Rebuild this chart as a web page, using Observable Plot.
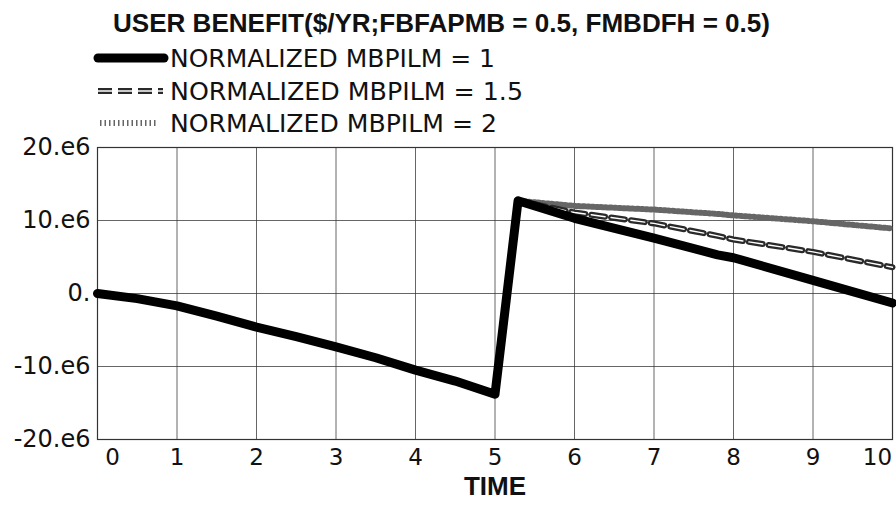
<!DOCTYPE html>
<html>
<head>
<meta charset="utf-8">
<script src="https://cdn.jsdelivr.net/npm/d3@7"></script>
<script src="https://cdn.jsdelivr.net/npm/@observablehq/plot@0.6"></script>
<style>
  html, body { margin: 0; padding: 0; background: white; }
  #wrap { position: relative; width: 896px; height: 508px; overflow: hidden; background: white; }
  #head { position: absolute; left: 0; top: 0; overflow: visible; z-index: 2; }
  #chart { position: absolute; left: 0; top: 130px; z-index: 1; }
</style>
</head>
<body>
<div id="wrap">
  <div id="chart"></div>
  <svg id="head" width="896" height="140"></svg>
</div>
<script>
// ---- data ----
const titleText = "USER BENEFIT($/YR;FBFAPMB = 0.5, FMBDFH = 0.5)";
const seriesNames = ["NORMALIZED MBPILM = 1", "NORMALIZED MBPILM = 1.5", "NORMALIZED MBPILM = 2"];
// common path before and at the jump (all three coincide)
const timePre = [0, 0.5, 1, 1.5, 2, 2.5, 3, 3.5, 4, 4.5, 5, 5.29];
const benefitPre = [0, -0.7e6, -1.7e6, -3.1e6, -4.6e6, -5.9e6, -7.3e6, -8.8e6, -10.5e6, -12.0e6, -13.8e6, 12.7e6];
// after the jump
const timePost = [6, 7, 7.8, 8, 9, 10];
const mbpilm1Post = [10.3e6, 7.6e6, 5.3e6, 4.9e6, 1.8e6, -1.3e6];
const mbpilm15Post = [11.1e6, 9.6e6, 7.9e6, 7.4e6, 5.7e6, 3.6e6];
const mbpilm2Post = [12.0e6, 11.5e6, 10.9e6, 10.7e6, 9.9e6, 8.9e6];
const xTicks = [0, 1, 2, 3, 4, 5, 6, 7, 8, 9, 10];
const yTicks = [20e6, 10e6, 0, -10e6, -20e6];
const yTickLabels = ["20.e6", "10.e6", "0.", "-10.e6", "-20.e6"];
const xLabel = "TIME";

// ---- build rows ----
function rows(name, post) {
  const r = timePre.map((t, i) => ({series: name, time: t, value: benefitPre[i]}));
  timePost.forEach((t, i) => r.push({series: name, time: t, value: post[i]}));
  return r;
}
const s1 = rows(seriesNames[0], mbpilm1Post);
const s15 = rows(seriesNames[1], mbpilm15Post);
const s2 = rows(seriesNames[2], mbpilm2Post);

const gridStyle = {stroke: "#333", strokeOpacity: 0.75, strokeWidth: 1};
const dotStyle = {stroke: "#666", strokeWidth: 6, strokeDasharray: "1.5 3"};
const dashOuter = {stroke: "#2a2a2a", strokeWidth: 6, strokeDasharray: "14 6"};
const dashInner = {stroke: "white", strokeWidth: 1.4, strokeDasharray: "14 6"};

const chart = Plot.plot({
  width: 896,
  height: 378,
  marginTop: 17,
  marginBottom: 69,
  marginLeft: 97,
  marginRight: 4,
  x: {domain: [0, 10]},
  y: {domain: [-20e6, 20e6]},
  style: {fontFamily: "DejaVu Sans", fontSize: "22px", color: "#111", background: "white"},
  marks: [
    Plot.gridX(xTicks, gridStyle),
    Plot.gridY(yTicks, gridStyle),
    Plot.frame({stroke: "#333", strokeWidth: 1.2}),
    Plot.axisY(yTicks, {tickSize: 0, tickPadding: 7, label: null, fontSize: 24,
      tickFormat: d => yTickLabels[yTicks.indexOf(d)]}),
    Plot.axisX(xTicks.slice(1, -1), {tickSize: 0, tickPadding: 9, label: null, fontSize: 23}),
    Plot.axisX([xTicks[0]], {tickSize: 0, tickPadding: 9, label: null, fontSize: 23, dx: 15}),
    Plot.axisX([xTicks[xTicks.length - 1]], {tickSize: 0, tickPadding: 9, label: null, fontSize: 23, dx: -15}),
    Plot.text([xLabel], {frameAnchor: "bottom", dy: 55, fontWeight: "bold", fontSize: 26,
      fontFamily: "Liberation Sans", fill: "#111"}),
    // MBPILM = 2 (dotted)
    Plot.line(s2, {x: "time", y: "value", ...dotStyle}),
    // MBPILM = 1.5 (double dashed)
    Plot.line(s15, {x: "time", y: "value", ...dashOuter}),
    Plot.line(s15, {x: "time", y: "value", ...dashInner}),
    // MBPILM = 1 (thick solid)
    Plot.line(s1, {x: "time", y: "value", stroke: "black", strokeWidth: 9, strokeLinejoin: "round", strokeLinecap: "round"})
  ]
});
document.getElementById("chart").appendChild(chart);

// ---- title and legend ----
const head = d3.select("#head");
head.append("text")
  .attr("x", 113).attr("y", 32)
  .attr("font-family", "Liberation Sans").attr("font-weight", "bold").attr("font-size", 26)
  .attr("textLength", 657).attr("lengthAdjust", "spacingAndGlyphs")
  .attr("fill", "#111")
  .text(titleText);

const legendRows = [
  {name: seriesNames[0], y: 58, baseline: 67, x1: 98, x2: 164, kind: "solid", len: 325},
  {name: seriesNames[1], y: 91, baseline: 100, x1: 98, x2: 163, kind: "dash", len: 353},
  {name: seriesNames[2], y: 123, baseline: 132, x1: 100, x2: 158, kind: "dot", len: 327}
];
function seg(r, st) {
  return head.append("line").attr("x1", r.x1).attr("x2", r.x2).attr("y1", r.y).attr("y2", r.y)
    .attr("stroke", st.stroke).attr("stroke-width", st.strokeWidth)
    .attr("stroke-dasharray", st.strokeDasharray || null);
}
legendRows.forEach(r => {
  if (r.kind === "solid") {
    seg(r, {stroke: "black", strokeWidth: 9}).attr("stroke-linecap", "round");
  } else if (r.kind === "dash") {
    seg(r, dashOuter);
    seg(r, dashInner);
  } else {
    seg(r, dotStyle);
  }
  head.append("text")
    .attr("x", 170).attr("y", r.baseline)
    .attr("font-family", "DejaVu Sans").attr("font-size", 24)
    .attr("textLength", r.len).attr("lengthAdjust", "spacingAndGlyphs")
    .attr("fill", "#111")
    .text(r.name);
});
</script>
</body>
</html>
